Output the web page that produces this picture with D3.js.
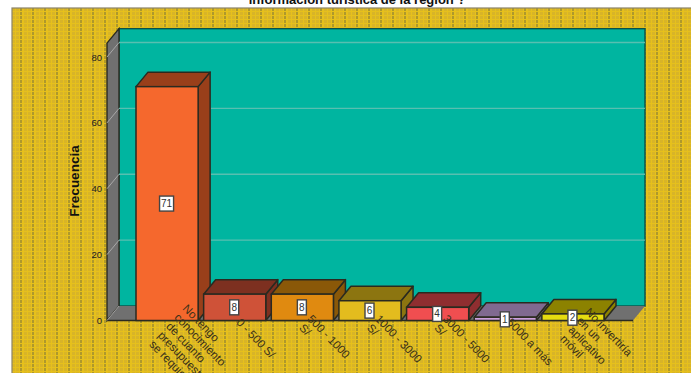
<!DOCTYPE html>
<html><head><meta charset="utf-8">
<script src="https://cdn.jsdelivr.net/npm/d3@7/dist/d3.min.js"></script>
<style>html,body{margin:0;padding:0;background:#fff;overflow:hidden}svg{display:block}text{font-family:"Liberation Sans",Arial,sans-serif}</style>
</head><body><script>
const categories=[["No tengo","conocimiento","de cuanto","presupuesto","se requiere"],["0 - 500 S/"],["500 - 1000","S/"],["1000 - 3000","S/"],["3000 - 5000","S/"],["5000 a más"],["No invertiría","en un","aplicativo","móvil"]];
const values=[71,8,8,6,4,1,2];
const frontColors=["#F5682D","#CF5238","#E08A10","#E3BC1E","#F04E50","#CDA0DC","#E6DC10"];
const topColors=["#993F1A","#7D3020","#8A5808","#8C7510","#8F2E30","#806A90","#8C8200"];
const yTicks=[0,20,40,60,80];
const titleText="información turística de la región ?";
const yTitle="Frecuencia";

const W=691,H=373,dx=12,dy=14.5;
const y=d3.scaleLinear().domain([0,80]).range([320.5,57]);
const x=d3.scaleBand().domain(d3.range(values.length)).range([136,604]).paddingInner(0.0815);
const wallL=107,wallR=633,wallTop=84.2;
const svg=d3.select("body").append("svg").attr("width",W).attr("height",H);

const pat=svg.append("defs").append("pattern").attr("id","bg").attr("patternUnits","userSpaceOnUse").attr("width",12).attr("height",4);
pat.append("rect").attr("width",12).attr("height",4).attr("fill","#E6C01C");
[0,4].forEach(px=>pat.append("rect").attr("x",px).attr("y",0).attr("width",3).attr("height",3).attr("fill","#D8B428"));
pat.append("rect").attr("x",8).attr("y",0).attr("width",2).attr("height",3).attr("fill","#AE982C");

svg.append("rect").attr("x",12).attr("y",8).attr("width",W).attr("height",H).attr("fill","url(#bg)").attr("stroke","#8C8468").attr("stroke-width",1.2);

const poly=a=>a.map(p=>p.join(",")).join(" ");
const line="#2A2A20";
svg.append("rect").attr("x",wallL+dx).attr("y",y(wallTop)-dy).attr("width",wallR-wallL).attr("height",y(0)-y(wallTop)).attr("fill","#00B5A0").attr("stroke","#0A5048").attr("stroke-width",1.4);
svg.append("polygon").attr("points",poly([[wallL,y(wallTop)],[wallL+dx,y(wallTop)-dy],[wallL+dx,y(0)-dy],[wallL,y(0)]])).attr("fill","#707070").attr("stroke",line).attr("stroke-width",1.4);
svg.append("polygon").attr("points",poly([[wallL,y(0)],[wallL+dx,y(0)-dy],[wallR+dx,y(0)-dy],[wallR,y(0)]])).attr("fill","#707070");
svg.append("line").attr("x1",wallL).attr("x2",wallR).attr("y1",y(0)).attr("y2",y(0)).attr("stroke",line).attr("stroke-width",1.6);
svg.append("line").attr("x1",wallL).attr("x2",wallL+dx).attr("y1",y(0)).attr("y2",y(0)-dy).attr("stroke","#A0A0A0").attr("stroke-width",1);

const grid=svg.append("g");
yTicks.slice(1).forEach(t=>{
  grid.append("line").attr("x1",wallL+dx).attr("x2",wallR+dx).attr("y1",y(t)-dy).attr("y2",y(t)-dy).attr("stroke","#58BFB0").attr("stroke-width",1.4);
  grid.append("line").attr("x1",wallL).attr("x2",wallL+dx).attr("y1",y(t)).attr("y2",y(t)-dy).attr("stroke","#A8A8A8").attr("stroke-width",1);
});

const ax=svg.append("g").attr("transform",`translate(${wallL-5},0)`).call(d3.axisLeft(y).tickValues(yTicks).tickSize(0).tickPadding(0));
ax.select(".domain").remove();
ax.selectAll("text").attr("font-size",9.5).attr("fill","#222").style("font-family",'"Liberation Sans",Arial,sans-serif');

const bars=svg.append("g").selectAll("g").data(values).join("g");
bars.each(function(v,i){
  const g=d3.select(this),l=x(i),r=l+x.bandwidth(),t=y(v),b=y(0);
  g.append("polygon").attr("points",poly([[r,t],[r+dx,t-dy],[r+dx,b-dy],[r,b]])).attr("fill",topColors[i]).attr("stroke",line).attr("stroke-width",1.5).attr("stroke-linejoin","round");
  g.append("polygon").attr("points",poly([[l,t],[l+dx,t-dy],[r+dx,t-dy],[r,t]])).attr("fill",topColors[i]).attr("stroke",line).attr("stroke-width",1.5).attr("stroke-linejoin","round");
  g.append("rect").attr("x",l).attr("y",t).attr("width",r-l).attr("height",b-t).attr("fill",frontColors[i]).attr("stroke",line).attr("stroke-width",1.5);
});

const stepX=-8.3,stepY=9;
categories.forEach((lines,i)=>{
  const cx=x(i)+x.bandwidth()/2,n=lines.length-1;
  const sx=cx+1+3.5*n,sy=323-3.5*n;
  lines.forEach((s,j)=>{
    const px=sx+stepX*j,py=sy+stepY*j;
    svg.append("text").attr("transform",`translate(${px},${py}) rotate(46)`).attr("font-size",11.5).attr("fill","#3a3018").text(s);
  });
});

values.forEach((v,i)=>{
  const cx=x(i)+x.bandwidth()/2-0.5,cy=(y(v)+y(0))/2-(v<3?-0.5:0);
  const w=String(v).length>1?14:9;
  svg.append("rect").attr("x",cx-w/2).attr("y",cy-7.5).attr("width",w).attr("height",15).attr("fill","#fff").attr("stroke","#444").attr("stroke-width",1.4);
  svg.append("text").attr("x",cx).attr("y",cy+3.5).attr("text-anchor","middle").attr("font-size",10).attr("fill","#333").text(v);
});

svg.append("text").attr("x",357).attr("y",3.5).attr("text-anchor","middle").attr("font-size",13).attr("font-weight","bold").attr("fill","#111").text(titleText);
svg.append("text").attr("transform","translate(78.5,181) rotate(-90)").attr("text-anchor","middle").attr("font-size",13.5).attr("font-weight","bold").attr("fill","#111").text(yTitle);
</script></body></html>
